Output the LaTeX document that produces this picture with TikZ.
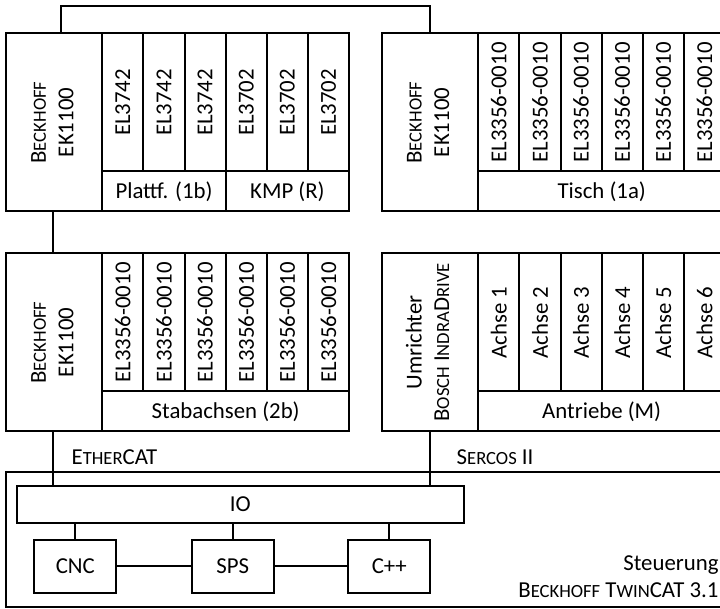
\documentclass[tikz,border=0pt]{standalone}
\usepackage{fontspec}
\setmainfont{Carlito}
\usetikzlibrary{positioning}
\newcommand\capsmall[2]{#1{\fontsize{9.3}{11}\selectfont#2}}

\begin{document}
\begin{tikzpicture}[
  x=0.5pt, y=-0.5pt, line width=1pt,
  every node/.style={font=\fontsize{11.4}{13.7}\selectfont,inner sep=0pt,outer sep=0pt},
  box/.style={draw,anchor=north west},
  coupler/.style={box,minimum width=48.2pt,minimum height=89pt},
  terminal/.style={box,minimum width=20.56pt,minimum height=69pt},
  group/.style={box,minimum height=20pt},
  task/.style={box,minimum width=41pt,minimum height=26.5pt}
]
\clip (0,0) rectangle (720,609);
\node[coupler] (ekA) at (6,33.5) {\rotatebox{90}{\begin{tabular}{@{}c@{}}\capsmall{B}{ECKHOFF}\\EK1100\end{tabular}}};
\foreach \i/\lbl in {1/EL3742,2/EL3742,3/EL3742,4/EL3702,5/EL3702,6/EL3702}
  \node[terminal] (tA\i) at ({102.3+41.12*(\i-1)},33.5) {\rotatebox{90}{\lbl}};
\node[group,minimum width=61.7pt] (gA1) at (102.3,171.5) {Plattf. (1b)};
\node[group,minimum width=61.7pt] (gA2) at (225.7,171.5) {KMP (R)};

\node[coupler] (ekB) at (6,253.5) {\rotatebox{90}{\begin{tabular}{@{}c@{}}\capsmall{B}{ECKHOFF}\\EK1100\end{tabular}}};
\foreach \i in {1,...,6}
  \node[terminal] (tB\i) at ({102.3+41.12*(\i-1)},253.5) {\rotatebox{90}{EL3356-0010}};
\node[group,minimum width=123.4pt] (gB) at (102.3,391.5) {Stabachsen (2b)};

\node[coupler] (ekC) at (381.7,33.5) {\rotatebox{90}{\begin{tabular}{@{}c@{}}\capsmall{B}{ECKHOFF}\\EK1100\end{tabular}}};
\foreach \i in {1,...,6}
  \node[terminal] (tC\i) at ({478.3+41.12*(\i-1)},33.5) {\rotatebox{90}{EL3356-0010}};
\node[group,minimum width=123.4pt] (gC) at (478.3,171.5) {Tisch (1a)};

\node[coupler] (drv) at (381.7,253.5) {\rotatebox{90}{\begin{tabular}{@{}c@{}}Umrichter\\\capsmall{B}{OSCH} \capsmall{I}{NDRA}\capsmall{D}{RIVE}\end{tabular}}};
\foreach \i in {1,...,6}
  \node[terminal] (ax\i) at ({478.3+41.12*(\i-1)},253.5) {\rotatebox{90}{Achse \i}};
\node[group,minimum width=123.4pt] (gD) at (478.3,391.5) {Antriebe (M)};

\node[box,minimum width=380pt,minimum height=67.3pt] (plc) at (6,472.5) {};
\node[anchor=south east,align=right] (plclbl) at (718.5,598) {Steuerung\\\capsmall{B}{ECKHOFF} \capsmall{T}{WIN}CAT 3.1};
\node[box,minimum width=223.7pt,minimum height=18.8pt] (io) at (16.7,485.7) {IO};
\node[task] (cnc) at (34.3,540) {CNC};
\node[task] (sps) at (191.7,540) {SPS};
\node[task] (cpp) at (348.3,540) {C++};

\draw ([xshift=27.5pt]ekA.north west) -- ++(0,-27) -| ([xshift=24.2pt]ekC.north west);
\draw ([xshift=23.7pt]ekA.south west) -- ([xshift=23.7pt]ekB.north west);
\draw ([xshift=23.7pt]ekB.south west) coordinate (ecat) -- (ecat |- io.north);
\draw ([xshift=24.2pt]drv.south west) coordinate (sercos) -- (sercos |- io.north);
\node[anchor=base west] (ecatlbl) at (71.7,465) {\capsmall{E}{THER}CAT};
\node[anchor=base west] (sercoslbl) at (456.7,465) {\capsmall{S}{ERCOS} II};
\foreach \n in {cnc,sps,cpp}
  \draw (\n.north) -- (\n.north |- io.south);
\draw (cnc) -- (sps);
\draw (sps) -- (cpp);
\end{tikzpicture}
\end{document}
